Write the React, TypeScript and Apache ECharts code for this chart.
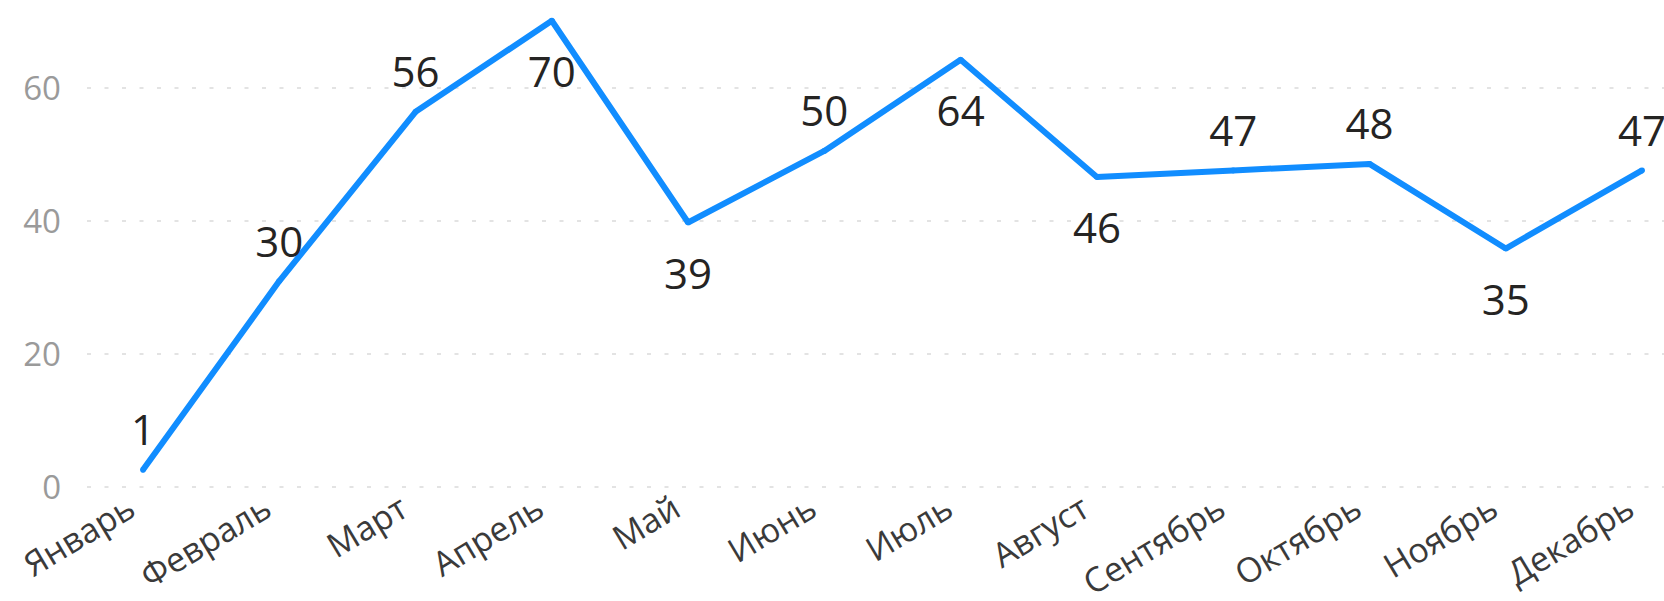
import React, { useEffect, useRef } from "react";
import * as echarts from "echarts";

const months = ["Январь", "Февраль", "Март", "Апрель", "Май", "Июнь", "Июль", "Август", "Сентябрь", "Октябрь", "Ноябрь", "Декабрь"];
const values = [1, 30, 56, 70, 39, 50, 64, 46, 47, 48, 35, 47];
const yMin = 0;
const yMax = 72;
const yInterval = 20;
// months whose data label sits below the line
const labelsBelow = ["Апрель", "Май", "Июль", "Август", "Ноябрь"];

export default function App() {
  const ref = useRef<HTMLDivElement>(null);
  useEffect(() => {
    document.body.style.margin = "0";
    if (!ref.current) return;
    const chart = echarts.init(ref.current, undefined, { renderer: "svg" });
    const top = 7.7;
    const bottom = 114.5;
    chart.setOption({
      animation: false,
      backgroundColor: "#ffffff",
      textStyle: { fontFamily: "'Open Sans', 'Noto Sans', sans-serif" },
      grid: [
        { left: 87, right: 0, top, bottom },
        { left: 143, right: 22, top, bottom },
      ],
      xAxis: [
        { gridIndex: 0, type: "category", data: months, show: false },
        {
          gridIndex: 1,
          type: "category",
          data: months,
          boundaryGap: false,
          axisLine: { show: false },
          axisTick: { show: false },
          axisLabel: {
            rotate: 31,
            interval: 0,
            fontSize: 34,
            color: "#3a3a3a",
            margin: 20,
            padding: [0, 14, 0, 0],
          },
        },
      ],
      yAxis: [
        {
          gridIndex: 0,
          type: "value",
          min: yMin,
          max: yMax,
          interval: yInterval,
          axisLine: { show: false },
          axisTick: { show: false },
          axisLabel: { fontSize: 33, color: "#9a9a9a", margin: 26, showMaxLabel: false },
          splitLine: {
            showMaxLine: false,
            lineStyle: { color: "#e3e3e3", width: 2, type: [4, 13.5] },
          },
        },
        {
          gridIndex: 1,
          type: "value",
          min: yMin,
          max: yMax,
          interval: yInterval,
          show: false,
          splitLine: { show: false },
        },
      ],
      series: [
        {
          type: "line",
          xAxisIndex: 1,
          yAxisIndex: 1,
          data: values.map((v, i) => {
            const below = labelsBelow.includes(months[i]);
            return {
              value: v,
              label: { position: below ? "bottom" : "top", distance: below ? 26 : 17 },
            };
          }),
          symbol: "circle",
          symbolSize: 6,
          showSymbol: true,
          itemStyle: { color: "#118DFF", borderWidth: 0 },
          lineStyle: { color: "#118DFF", width: 6 },
          clip: false,
          label: {
            show: true,
            fontSize: 42,
            color: "#252423",
            fontFamily: "'Open Sans', sans-serif",
          },
        },
      ],
    });
    return () => chart.dispose();
  }, []);
  return <div ref={ref} style={{ width: 1664, height: 601 }} />;
}
